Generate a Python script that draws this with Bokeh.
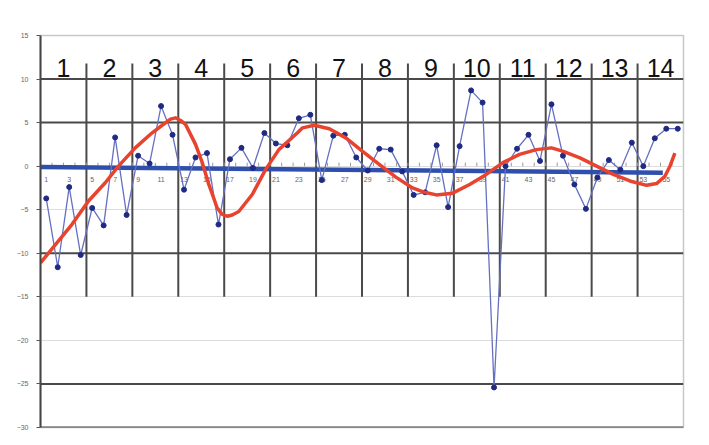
from bokeh.plotting import figure
from bokeh.models import Range1d, FixedTicker
from bokeh.embed import file_html
from bokeh.resources import INLINE
from bokeh.core.properties import value

# ---------------- data ----------------
categories = list(range(1, 57))
values = [-3.7, -11.6, -2.4, -10.2, -4.8, -6.8, 3.3, -5.6, 1.2, 0.3,
          6.9, 3.6, -2.7, 1.0, 1.5, -6.7, 0.8, 2.1, -0.2, 3.8,
          2.6, 2.4, 5.5, 5.9, -1.6, 3.5, 3.6, 1.0, -0.5, 2.0,
          1.9, -0.6, -3.3, -3.0, 2.4, -4.7, 2.3, 8.7, 7.3, -25.4,
          0.0, 2.0, 3.6, 0.6, 7.1, 1.2, -2.1, -4.9, -1.3, 0.7,
          -0.4, 2.7, 0.0, 3.2, 4.3, 4.3]

segment_labels = [str(k) for k in range(1, 15)]
points_per_segment = 4

trend_x = [0.5, 54.7]
trend_y = [-0.1, -0.75]

curve_x = [0.5, 3.23, 4.68, 6.14, 7.29, 8.75, 10.2, 11.3, 11.82, 12.26, 12.7, 13.13,
           14.0, 14.59, 15.16, 15.89, 16.3, 16.76, 17.2, 17.77, 18.94, 20.1, 21.26, 22.86,
           23.32, 24.34, 25.65, 27.09, 28.55, 30.0, 31.45, 32.9, 33.95, 34.97,
           36.4, 37.87, 39.32, 40.77, 42.22, 43.68, 45.0, 46.03, 47.48, 48.93,
           50.39, 51.83, 53.29, 54.16, 54.88, 55.32, 55.75]
curve_y = [-11.1, -6.7, -4.0, -1.9, 0.0, 2.1, 3.8, 4.9, 5.4, 5.55, 5.25, 4.8,
           2.5, 0.4, -2.1, -4.8, -5.5, -5.75, -5.6, -5.2, -3.25, -0.4, 1.9, 3.8,
           4.4, 4.7, 4.3, 3.25, 1.7, 0.2, -1.26, -2.5, -3.0, -3.3,
           -3.1, -2.1, -0.95, 0.4, 1.35, 1.9, 2.1, 1.7, 0.95, 0.0,
           -0.95, -1.7, -2.2, -2.0, -1.15, 0.0, 1.5]

y_ticks = [-30, -25, -20, -15, -10, -5, 0, 5, 10, 15]
dark_levels = [10, 5, -10, -25, -30]
x_label_cats = [c for c in categories if c % 2 == 1]
divider_top = 11.8
divider_bottom = -15
label_level = 11.3

# ---------------- figure ----------------
p = figure(width=705, height=441, output_backend="svg", toolbar_location=None,
           x_range=Range1d(0.5, 56.5), y_range=Range1d(-30, 15),
           min_border_left=40, min_border_right=22, min_border_top=35,
           min_border_bottom=14)
p.background_fill_color = "white"
p.border_fill_color = "white"
p.outline_line_color = "#c8c8c8"
p.outline_line_width = 1.5

p.xaxis.visible = False
p.xgrid.visible = False

p.yaxis.ticker = FixedTicker(ticks=y_ticks)
p.yaxis.minor_tick_line_color = None
p.yaxis.major_tick_in = 0
p.yaxis.major_tick_out = 4
p.yaxis.major_tick_line_color = "#555555"
p.yaxis.axis_line_color = "#444444"
p.yaxis.axis_line_width = 2
p.yaxis.major_label_text_font = "Liberation Sans"
p.yaxis.major_label_text_font_size = "7px"
p.yaxis.major_label_text_color = "#666666"
p.yaxis.major_label_standoff = 8

p.ygrid.ticker = FixedTicker(ticks=y_ticks)
p.ygrid.grid_line_color = "#dcdcdc"
p.ygrid.grid_line_width = 1.2

# dark horizontal gridlines
for lvl in dark_levels:
    p.line([0.5, 56.5], [lvl, lvl], line_color="#4a4a4a", line_width=2)

# segment dividers
boundaries = [points_per_segment * k + 0.5 for k in range(1, len(segment_labels))]
p.segment(x0=boundaries, y0=[divider_top] * len(boundaries),
          x1=boundaries, y1=[divider_bottom] * len(boundaries),
          line_color="#4a4a4a", line_width=2)

# segment labels
seg_centers = [points_per_segment * (k + 1) - (points_per_segment - 1) / 2 for k in range(len(segment_labels))]
p.text(x=seg_centers, y=[label_level] * len(seg_centers), text=segment_labels,
       text_font=value("Liberation Sans"), text_font_size="25px",
       text_color="#111111", text_align="center", text_baseline="middle")

# category ticks on zero line
tick_pos = [c + 0.5 for c in categories[:-1]]
p.segment(x0=tick_pos, y0=[0] * len(tick_pos), x1=tick_pos, y1=[0.4] * len(tick_pos),
          line_color="#999999", line_width=1)

# category labels
p.text(x=x_label_cats, y=[0] * len(x_label_cats), text=[str(c) for c in x_label_cats],
       y_offset=11, text_font=value("Liberation Sans"), text_font_size="7px",
       text_color="#666666", text_align="center", text_baseline="top")

# linear trend
p.line(trend_x, trend_y, line_color="#2f4fad", line_width=4.5)

# data series
p.line(categories, values, line_color="#6670c0", line_width=1.3)
p.scatter(categories, values, size=5, fill_color="#1f2a85", line_color="#1f2a85")

# smooth trend curve
p.line(curve_x, curve_y, line_color="#e8432e", line_width=3.5, line_join="round")

open("out.html", "w").write(file_html(p, INLINE))
